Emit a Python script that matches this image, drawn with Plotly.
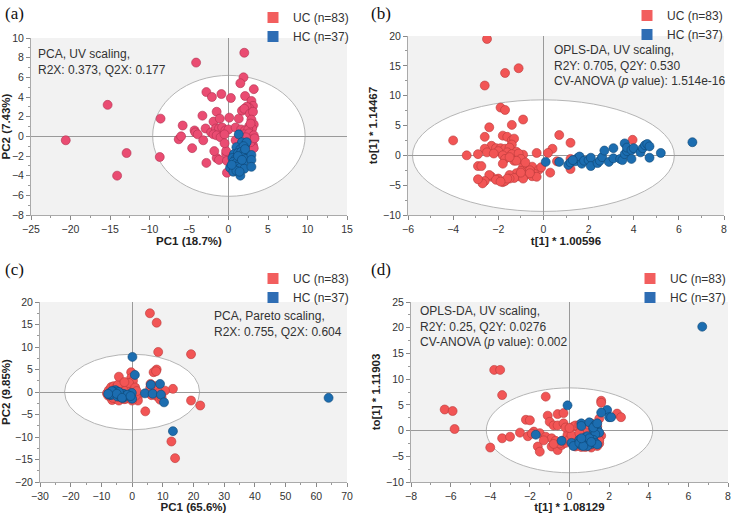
import plotly.graph_objects as go

# ---------------- data ----------------
a_uc = [(-20.6,-0.4),(-15.3,3.2),(-12.9,-1.7),(-14.1,-4.0),(-8.6,1.8),(-8.7,-2.1),(-4.1,7.5),(2.0,8.5),
        (-6.3,-0.3),(-6.0,0.0),(-5.8,1.1),(-4.6,-1.2),(-4.3,0.6),(-4.2,0.4),(-3.9,0.2),(-3.2,-0.4),(-3.3,2.1),
        (-2.8,4.5),(-2.1,4.0),(-0.9,4.3),(0.3,3.9),(-1.5,2.5),(-1.9,1.5),(-1.1,1.8),(0.1,1.9),(-2.9,0.8),
        (-2.2,0.4),(-1.6,0.8),(-1.2,0.8),(-0.8,0.9),(-0.4,0.6),(0.0,0.7),(-1.9,0.2),(-1.5,0.1),(-1.0,-0.1),
        (-0.5,0.2),(-2.8,-2.7),(-1.5,-2.2),(-1.2,-2.4),(-0.3,-1.8),(-0.3,-1.5),(-0.5,-0.7),(-1.8,-1.5),
        (-0.2,-3.7),(-0.2,-2.5),
        (1.9,6.0),(1.5,5.4),(3.2,4.8),(2.1,4.1),(2.9,3.6),(3.1,3.1),(2.6,2.9),(2.3,3.0),(1.7,2.6),(2.0,2.8),
        (2.7,2.3),(3.1,2.5),(1.3,1.8),(2.9,1.7),(2.6,1.0),(3.2,1.2),(3.0,0.8),(0.9,0.9),(1.6,0.7),(2.1,0.6),
        (2.5,0.7),(1.4,0.1),(2.0,0.2),(2.6,0.3),(3.2,0.1),(3.0,-0.3),(2.4,-0.5),(3.1,-0.9),(3.2,-1.2),
        (2.8,-0.6),(1.8,-0.2),(1.3,-0.5),(0.9,-0.4),(1.5,-2.6),(0.6,-2.0),(2.8,1.3),(3.3,-0.2),(2.2,-0.1)]
a_hc = [(1.3,0.2),(1.7,-0.6),(2.1,-0.9),(2.3,-0.6),(1.0,-1.1),(1.5,-1.3),(1.9,-1.0),(0.7,-1.8),(1.2,-1.7),
        (1.6,-1.6),(2.0,-1.6),(2.3,-1.8),(0.5,-2.2),(0.9,-2.3),(1.3,-2.2),(1.8,-2.1),(2.2,-2.3),(2.9,-1.9),
        (0.6,-2.6),(1.0,-2.7),(1.4,-2.8),(1.9,-2.7),(2.9,-2.4),(0.2,-3.2),(0.7,-3.1),(1.1,-3.1),(1.5,-3.2),
        (2.0,-3.3),(2.9,-3.1),(0.6,-3.6),(1.0,-3.5),(1.5,-4.0),(1.2,-2.0),(1.7,-2.4),(0.4,-2.9),(2.1,-1.3),
        (1.4,-3.6)]

b_uc = [(-2.5,19.5),(-1.1,14.6),(-1.7,13.8),(-2.6,11.7),(-1.9,8.0),(-1.7,7.6),(-0.9,6.0),(-1.4,5.1),(-2.4,4.7),
        (-4.0,2.5),(-2.6,3.1),(-1.8,3.3),(-1.6,3.1),(-1.4,2.5),(-1.3,2.8),(-1.4,1.8),(0.7,3.4),(0.4,1.1),
        (1.2,2.1),(3.95,2.6),(-2.3,1.6),(-2.6,1.1),(-2.1,1.2),(-1.9,1.2),(-1.7,1.1),(-1.5,1.3),(-2.5,0.5),
        (-2.0,0.7),(-1.6,0.5),(-1.2,0.6),(-0.9,0.1),(-1.4,0.2),(-3.4,0.0),(-2.9,0.2),(-1.8,0.0),(-1.1,0.3),
        (-0.3,0.4),(0.2,0.4),(-1.7,-0.6),(-1.3,-0.9),(-1.0,-0.6),(-1.8,-1.4),(-2.9,-1.8),(-2.75,-1.8),
        (-0.9,-1.9),(-0.7,-2.1),(-0.5,-1.9),(-1.0,-2.6),(-0.2,-2.4),(0.3,-2.9),(-0.4,-3.1),(-0.7,-2.7),
        (-1.2,-3.0),(-1.5,-3.3),(-1.1,-3.5),(-0.8,-3.3),(-0.5,-3.5),(-0.3,-3.6),(-1.3,-3.8),(-1.5,-3.9),
        (-2.0,-3.9),(-2.3,-3.6),(-2.4,-3.3),(-2.6,-4.3),(-2.7,-4.7),(-2.9,-4.0),(-2.1,-4.1),(-1.8,-4.5),
        (-1.7,-4.3),(-1.6,-3.9),(-0.9,-3.9),(-0.1,-2.0),(0.6,-1.0),(1.2,-0.6),(1.2,-2.3),(-1.9,-4.4),
        (-1.0,-2.9),(-0.6,-2.5),(-1.2,-0.9),(-0.8,-1.2),(-2.2,0.3),(-1.5,-0.3),(-0.6,-3.0)]
b_hc = [(0.1,-1.1),(0.7,-1.1),(1.1,-1.6),(1.2,-1.2),(1.4,-1.0),(1.5,-0.5),(1.6,-0.2),(1.7,-1.4),(1.8,-0.9),
        (2.0,-0.8),(2.1,-0.4),(2.1,-1.8),(2.4,-1.3),(2.5,-0.9),(2.6,-0.3),(2.7,0.8),(2.9,-1.1),(3.1,1.2),
        (3.1,-0.5),(3.4,-0.6),(3.5,-0.8),(3.6,0.2),(3.6,2.0),(3.7,0.7),(3.7,1.3),(3.9,0.9),(3.9,-0.6),
        (4.0,1.2),(4.3,0.5),(4.4,1.2),(4.5,1.7),(4.6,1.9),(4.7,1.5),(4.7,-0.4),(5.2,0.4),(6.6,2.2),(1.3,-0.8)]

c_uc = [(-8.2,-0.3),(-7.6,0.4),(-7.2,-1.0),(-6.8,1.1),(-6.5,-1.8),(-6.3,0.2),(-6.0,1.3),(-5.8,-0.9),
        (-5.5,0.8),(-5.2,-1.5),(-5.0,1.0),(-4.8,-0.2),(-4.5,0.6),(-4.3,-1.9),(-4.0,1.2),(-3.8,-0.8),
        (-3.5,0.3),(-3.2,1.6),(-3.0,-1.2),(-2.8,0.8),(-2.5,-0.3),(-2.2,1.1),(-2.0,-1.5),(-1.8,0.5),
        (-1.5,-0.8),(-1.2,0.9),(-1.0,-0.2),(-0.7,0.6),(-0.5,-1.1),(-0.3,0.2),(0.2,-0.5),(-6.2,-1.3),
        (-5.3,0.1),(-4.1,-1.1),(-3.6,0.9),(-2.6,-1.6),(-1.6,0.1),(-7.8,-0.8),(-7.0,0.0),(-4.6,1.6),
        (-3.3,-0.4),(-2.1,0.3),(-0.8,-0.6),(-5.7,-0.4),(-0.2,1.2),
        (5.8,17.5),(8.0,15.4),(8.5,8.9),(19.2,8.4),(8.0,5.0),(7.0,4.4),(-4.3,3.4),(-0.3,4.4),(-0.3,3.1),
        (0.3,2.5),(6.0,1.8),(7.5,1.3),(13.3,0.7),(10.7,0.3),(6.5,0.2),(8.0,-0.9),(9.1,-1.7),(19.2,-1.9),
        (22.2,-3.0),(4.3,-4.3),(12.8,-11.0),(14.0,-14.7),(1.8,-1.2),(1.9,-1.9),(-0.4,-1.3),(7.2,0.8),
        (5.9,0.9),(8.7,-0.2),(0.5,0.5),(1.2,-0.8),(-1.0,2.0),(1.0,1.0),(7.8,4.6),(6.3,-0.7),(9.6,-1.2),
        (-2.5,2.2),(0.0,-1.9),(1.5,0.2)]
c_hc = [(0.1,7.8),(0.9,3.8),(6.1,1.6),(9.1,1.8),(4.2,-0.3),(6.7,-0.4),(9.4,-0.6),(10.4,-2.3),(13.3,-8.7),
        (64.0,-1.3),(-0.1,-0.2),(0.0,-1.5),(-2.8,-1.3),(-2.5,-0.5),(-3.5,-0.7),(-4.6,-0.6),(-5.2,0.3),
        (-5.5,0.4),(-6.3,-0.4),(-7.0,-0.2),(-7.5,-0.6),(-6.8,-0.7),(-4.0,-0.2),(-3.0,-0.4),(-5.8,-0.2),
        (-4.8,-1.0),(-7.2,-0.5),(-6.0,0.1),(-3.8,-1.0),(-2.2,-0.8),(-1.5,-0.6),(-4.3,0.0),(-6.6,0.2),
        (-5.0,-0.4),(-3.3,-1.3),(-0.5,-0.9),(-7.8,-0.4)]

d_uc = [(-6.3,4.1),(-5.9,3.8),(-5.8,0.3),(-3.8,11.8),(-3.5,11.8),(-3.4,6.9),(-1.2,6.6),(-4.0,-3.3),
        (-3.4,-1.5),(-3.0,-1.2),(-2.5,-0.4),(-2.2,2.1),(-2.0,2.0),(-2.1,-1.1),(-1.8,-0.2),(-1.6,-3.1),
        (-1.5,-4.1),(-1.1,2.9),(-1.0,1.7),(-0.8,1.0),(-0.6,3.2),(-0.6,1.0),(-0.3,1.4),(-1.5,-0.5),
        (-1.2,-1.2),(-0.9,-1.5),(-0.9,-3.1),(-0.6,-3.8),(-0.4,-2.8),(-0.2,-2.4),(-0.3,-1.9),(-0.3,3.4),
        (-0.1,-0.8),(0.2,0.8),(0.3,1.0),(0.5,1.1),(0.1,-1.5),(0.4,-1.7),(0.6,-1.3),(0.7,-0.7),(0.9,-0.4),
        (0.2,-2.2),(0.3,-3.1),(0.6,-2.5),(0.9,-1.9),(1.0,-2.6),(1.2,-1.8),(1.3,-2.4),(0.8,-3.2),(1.1,-3.3),
        (1.5,-2.5),(1.4,-3.0),(1.6,5.8),(1.6,5.4),(2.4,3.3),(2.6,2.6),(1.5,2.3),(1.4,0.8),(1.3,-0.1),
        (1.6,-1.0),(0.9,1.2),(1.1,1.4),(-0.5,-2.5),(0.0,-1.7),(1.0,-1.2),(0.7,-1.9),(0.4,-2.9),(0.8,-2.8),
        (1.3,-2.0),(-1.3,-1.9),(-0.7,-2.0),(0.1,-0.9),(1.2,-0.6),(0.5,-0.5),(-0.2,0.6),(1.0,-3.0),
        (1.45,-1.5),(0.3,-2.6),(-0.8,-2.6),(0.6,-3.2),(1.5,-1.9),(-1.9,-0.6),(0.0,0.5)]
d_hc = [(6.7,20.2),(-0.1,4.9),(1.9,4.0),(1.6,3.5),(2.0,2.6),(2.1,2.6),(0.6,1.4),(0.6,0.9),(1.0,1.6),
        (1.3,1.1),(1.4,0.3),(1.2,0.3),(1.5,-0.4),(1.3,-0.7),(1.2,0.6),(1.4,1.4),(-1.7,-0.8),(-0.4,-2.0),
        (0.1,-2.4),(0.2,-3.0),(0.5,-1.8),(0.6,-2.9),(0.7,-2.2),(0.8,-1.3),(0.9,-1.1),(0.8,-2.7),(1.0,-2.0),
        (1.1,-2.6),(1.2,-1.8),(1.3,-2.4),(1.4,-2.7),(0.5,-2.4),(0.9,-3.0),(0.7,-3.0),(1.0,-1.5),(1.1,-2.2),
        (0.6,-1.5)]

panel_labels = ["(a)", "(b)", "(c)", "(d)"]
x_titles = ["PC1 (18.7%)", "t[1] * 1.00596", "PC1 (65.6%)", "t[1] * 1.08129"]
y_titles = ["PC2 (7.43%)", "to[1] * 1.14467", "PC2 (9.85%)", "to[1] * 1.11903"]
x_ranges = [[-25, 15], [-6, 8], [-30, 70], [-8, 8]]
y_ranges = [[-8, 10], [-10, 20], [-20, 20], [-10, 25]]
x_dticks = [5, 2, 10, 2]
y_dticks = [2, 5, 5, 5]
x_minor = [2.5, 1, 5, 1]
y_minor = [1, 2.5, 2.5, 2.5]
ellipses = [(-9.6, 9.7, -6.1, 6.2), (-5.8, 5.8, -9.4, 9.3), (-22, 22, -8.4, 8.4), (-4.2, 4.2, -8.2, 8.3)]
notes = ["PCA, UV scaling,<br>R2X: 0.373, Q2X: 0.177",
         "OPLS-DA, UV scaling,<br>R2Y: 0.705, Q2Y: 0.530<br>CV-ANOVA (<i>p</i> value): 1.514e-16",
         "PCA, Pareto scaling,<br>R2X: 0.755, Q2X: 0.604",
         "OPLS-DA, UV scaling,<br>R2Y: 0.25, Q2Y: 0.0276<br>CV-ANOVA (<i>p</i> value): 0.002"]
legend_names = ["UC (n=83)", "HC (n=37)"]

# ---------------- styling / layout ----------------
W, H = 732, 513
def fx(px): return px / W
def fy(py): return 1 - py / H

plot_px = [(31, 347, 38, 215), (408, 724, 36, 215), (40, 347, 302, 482), (411, 728, 302, 482)]
note_px = [(36, 45), (552, 41), (212, 307), (418, 302)]
label_px = [(3, 2), (369, 2), (3, 258), (369, 258)]
legend_right_px = [(354, 3), (728, 1), (354, 264), (731, 264)]

uc_cols = ["#EA4C72", "#F25555", "#F25555", "#F25555"]
uc_line = ["#B0304F", "#B83A3A", "#B83A3A", "#B83A3A"]
hc_col = "#1C6DB0"
hc_line = "#0E4676"

data = [(a_uc, a_hc), (b_uc, b_hc), (c_uc, c_hc), (d_uc, d_hc)]
FONT = "Liberation Sans, Arial, sans-serif"

fig = go.Figure()
layout = dict(width=W, height=H, margin=dict(l=0, r=0, t=0, b=0, autoexpand=False),
              paper_bgcolor="white", plot_bgcolor="#F2F2F2", showlegend=True,
              font=dict(family=FONT, color="#333333"))
shapes, annotations = [], []

for i in range(4):
    sfx = "" if i == 0 else str(i + 1)
    xa, ya = "x" + sfx, "y" + sfx
    lg = "legend" + sfx
    uc, hc = data[i]
    fig.add_trace(go.Scatter(x=[p[0] for p in uc], y=[p[1] for p in uc], mode="markers",
                             xaxis=xa, yaxis=ya, showlegend=False, hoverinfo="skip",
                             marker=dict(size=9, color=uc_cols[i], line=dict(color=uc_line[i], width=0.6))))
    fig.add_trace(go.Scatter(x=[p[0] for p in hc], y=[p[1] for p in hc], mode="markers",
                             xaxis=xa, yaxis=ya, showlegend=False, hoverinfo="skip",
                             marker=dict(size=9, color=hc_col, line=dict(color=hc_line, width=0.6))))
    fig.add_trace(go.Scatter(x=[None], y=[None], mode="markers", name=legend_names[0], legend=lg,
                             xaxis=xa, yaxis=ya,
                             marker=dict(symbol="square", size=11, color="#F25E5E")))
    fig.add_trace(go.Scatter(x=[None], y=[None], mode="markers", name=legend_names[1], legend=lg,
                             xaxis=xa, yaxis=ya,
                             marker=dict(symbol="square", size=11, color="#2E6DB4")))

    x0, x1, y0, y1 = plot_px[i]
    axis_common = dict(showgrid=False, ticks="outside", ticklen=4, tickcolor="#888888",
                       showline=True, linecolor="#AAAAAA", linewidth=1, automargin=False,
                       zeroline=True, zerolinecolor="#9A9A9A", zerolinewidth=1,
                       tickfont=dict(size=10.5, color="#333333"))
    layout["xaxis" + sfx] = dict(axis_common, domain=[fx(x0), fx(x1)], range=x_ranges[i],
                                 dtick=x_dticks[i], anchor=ya,
                                 minor=dict(ticks="outside", ticklen=2, dtick=x_minor[i], tickcolor="#999999"),
                                 title=dict(text=x_titles[i], standoff=3,
                                            font=dict(size=11.5, weight="bold", color="#222222")))
    layout["yaxis" + sfx] = dict(axis_common, domain=[fy(y1), fy(y0)], range=y_ranges[i],
                                 dtick=y_dticks[i], anchor=xa,
                                 minor=dict(ticks="outside", ticklen=2, dtick=y_minor[i], tickcolor="#999999"),
                                 title=dict(text=y_titles[i], standoff=3,
                                            font=dict(size=11.5, weight="bold", color="#222222")))
    e = ellipses[i]
    shapes.append(dict(type="circle", xref=xa, yref=ya, x0=e[0], x1=e[1], y0=e[2], y1=e[3],
                       fillcolor="white", line=dict(color="#B5B5B5", width=1), layer="below"))
    nx, ny = note_px[i]
    annotations.append(dict(xref="paper", yref="paper", x=fx(nx), y=fy(ny), xanchor="left", yanchor="top",
                            text=notes[i], showarrow=False, align="left",
                            font=dict(size=12, color="#333333")))
    lx, ly = label_px[i]
    annotations.append(dict(xref="paper", yref="paper", x=fx(lx), y=fy(ly), xanchor="left", yanchor="top",
                            text=panel_labels[i], showarrow=False,
                            font=dict(size=17, family="Liberation Serif, Times New Roman, serif", color="#111111")))
    gx, gy = legend_right_px[i]
    layout[lg] = dict(x=fx(gx), y=fy(gy), xanchor="right", yanchor="top", bgcolor="rgba(0,0,0,0)",
                      font=dict(size=12, color="#333333"), itemsizing="trace",
                      tracegroupgap=0, itemwidth=30)

layout["shapes"] = shapes
layout["annotations"] = annotations
fig.update_layout(**layout)
fig.write_html("out.html", config={"displayModeBar": False},
               post_script="document.body.style.margin='0px';")
